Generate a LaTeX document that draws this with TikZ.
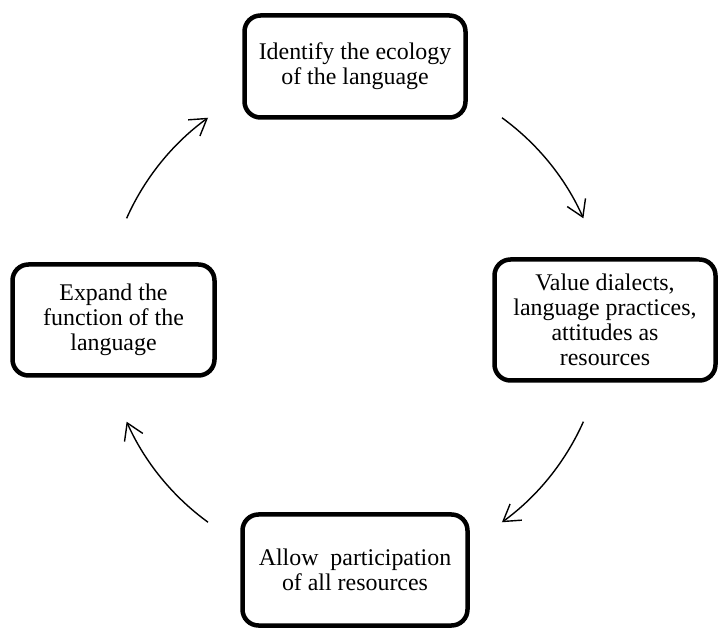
\documentclass[tikz,border=0pt]{standalone}
\usepackage{fontspec}
\setmainfont{Liberation Serif}
\usetikzlibrary{arrows.meta}

\begin{document}
\begin{tikzpicture}[x=1pt,y=1pt,
  stage/.style={draw,line width=4.5pt,rounded corners=16pt,align=center,inner sep=0pt,
    font=\fontsize{23.9}{25}\selectfont},
  cyc/.style={line width=1.4pt,-{Straight Barb[length=16pt,width=20pt]}}]
\useasboundingbox (0,0) rectangle (719,631);
\node[stage,minimum width=221pt,minimum height=102pt] (ecol) at (355,564.5) {Identify the ecology\\of the language};
\node[stage,minimum width=221pt,minimum height=121pt] (value) at (605,311) {Value dialects,\\language practices,\\attitudes as\\resources};
\node[stage,minimum width=225pt,minimum height=111pt] (allow) at (355,61) {Allow\ \ participation\\of all resources};
\node[stage,minimum width=202pt,minimum height=111pt] (expand) at (113.5,311) {Expand the\\function of the\\language};
\coordinate (hub) at (355,311);
\foreach \s/\e in {54/24,-24/-54,-126/-156,156/126}
  \draw[cyc] (hub) ++(\s:250) arc[start angle=\s,end angle=\e,radius=250pt];
\end{tikzpicture}
\end{document}
